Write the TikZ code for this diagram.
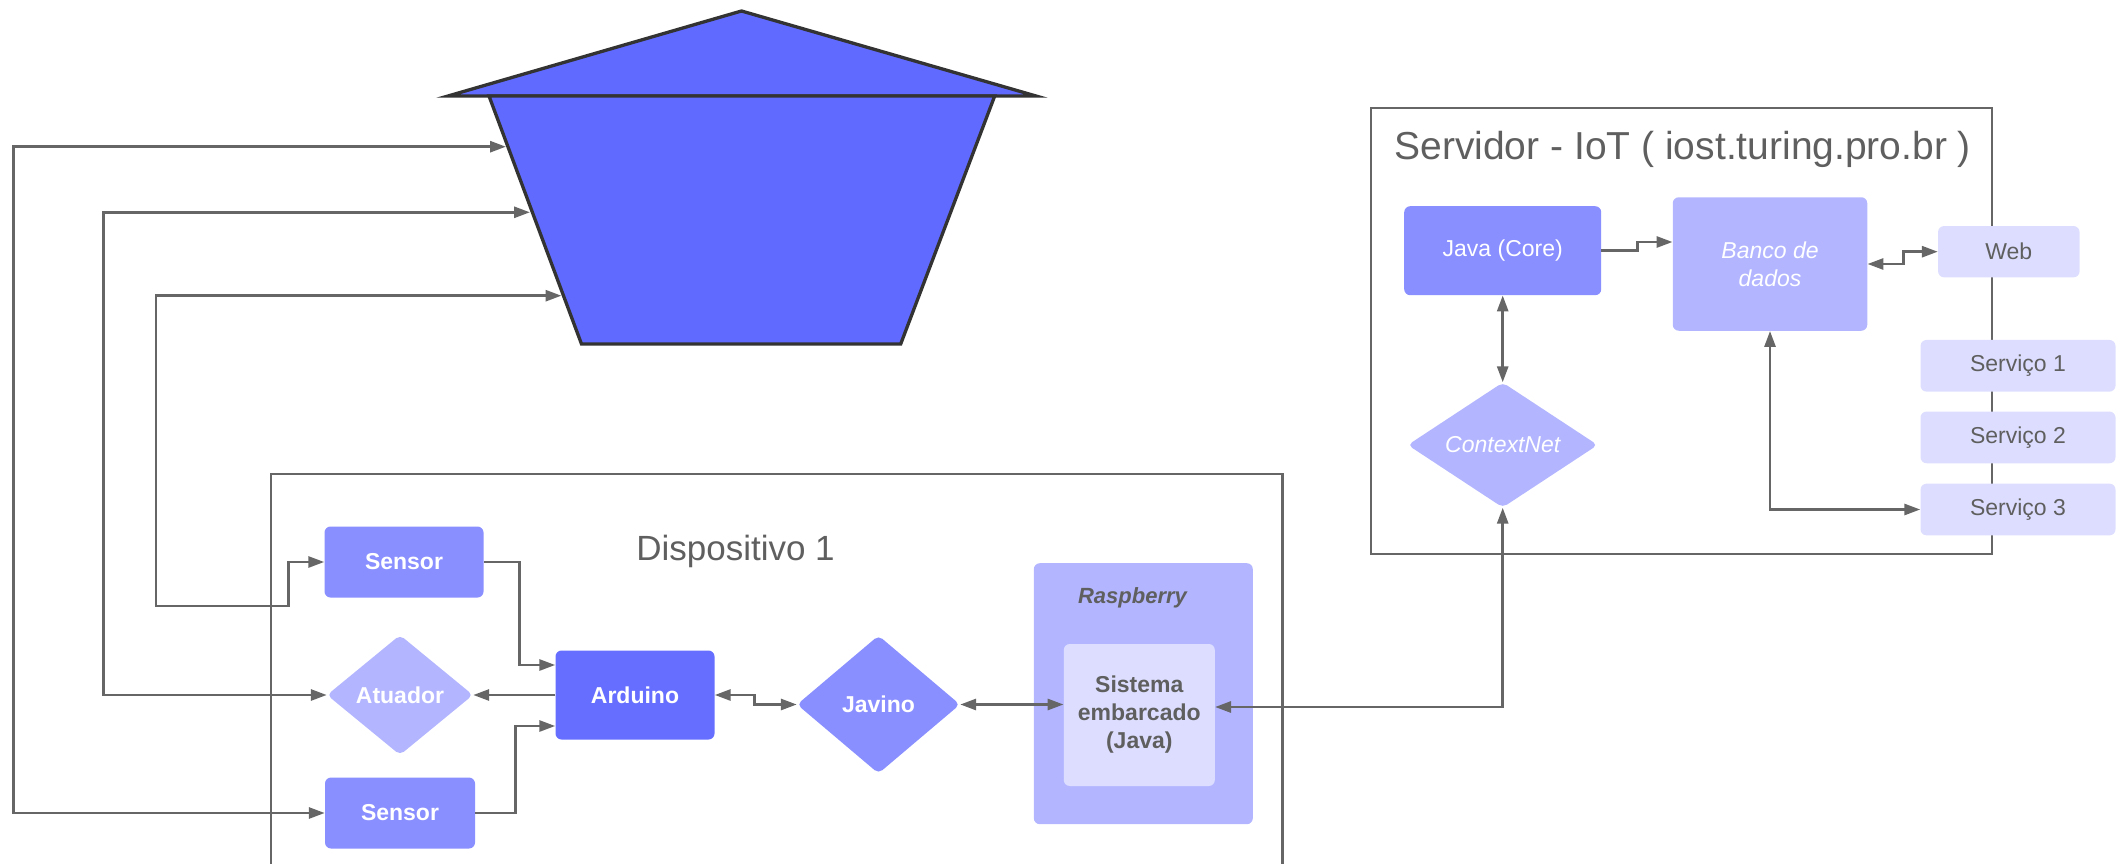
\documentclass[tikz,border=0pt]{standalone}
\usepackage{fontspec}
\setmainfont{Liberation Sans}
\usepackage{tikz}
\usetikzlibrary{shapes, arrows.meta, positioning, shapes.geometric}

\definecolor{HouseBlue}{RGB}{97,106,255}
\definecolor{DarkBlue}{RGB}{102,110,255}
\definecolor{MidBlue}{RGB}{138,143,255}
\definecolor{LightBlue}{RGB}{179,182,255}
\definecolor{PaleBlue}{RGB}{221,222,255}
\definecolor{LineGray}{RGB}{102,102,102}
\definecolor{TitleGray}{RGB}{95,95,95}
\definecolor{EdgeDark}{RGB}{51,51,51}
\newcommand{\BoxFont}{\fontsize{23}{28}\selectfont}

\begin{document}
\begin{tikzpicture}
[x=1pt, y=-1pt,
BoxNode/.style={rectangle, rounded corners=6pt, inner sep=0pt, align=center},
DarkNode/.style={BoxNode, fill=DarkBlue, text=white},
MidNode/.style={BoxNode, fill=MidBlue, text=white},
LightNode/.style={BoxNode, fill=LightBlue, text=white},
PaleNode/.style={BoxNode, fill=PaleBlue, text=TitleGray},
DecisionNode/.style={diamond, rounded corners=5pt, inner sep=0pt, text=white},
TitleNode/.style={text=TitleGray, anchor=base},
FrameLine/.style={draw=LineGray, line width=2.7pt},
HouseLine/.style={draw=EdgeDark, line width=3.3pt, fill=HouseBlue},
Link/.style={draw=LineGray, line width=2.8pt, -{Triangle[length=16pt,width=11pt]}},
BiLink/.style={Link, {Triangle[length=16pt,width=11pt]}-{Triangle[length=16pt,width=11pt]}}
]
\useasboundingbox (0,0) rectangle (2126,864);

% casa
\draw[HouseLine] (448,96) -- (741.5,11) -- (1036,96) -- cycle;
\draw[HouseLine] (489,96) -- (994.7,96) -- (900.7,344) -- (581.5,344) -- cycle;
\coordinate (HouseA) at (506,146.7);
\coordinate (HouseB) at (530,212.3);
\coordinate (HouseC) at (561.5,295.7);

% Dispositivo 1
\draw[FrameLine] (271,875) |- (1282.6,474) -- (1282.6,875);
\node[TitleNode, font=\fontsize{35}{40}\selectfont] (DeviceTitle) at (735.5,560) {Dispositivo 1};

\node[MidNode, minimum width=159pt, minimum height=71pt, font=\BoxFont\bfseries] (SensorTop) at (404,562) {Sensor};
\node[DecisionNode, fill=LightBlue, aspect=1.22, minimum width=146pt, minimum height=120pt, font=\BoxFont\bfseries] (Atuador) at (400,695) {Atuador};
\node[MidNode, minimum width=150pt, minimum height=71pt, font=\BoxFont\bfseries] (SensorBottom) at (400,813) {Sensor};
\node[DarkNode, minimum width=159pt, minimum height=89pt, font=\BoxFont\bfseries] (Arduino) at (635,695) {Arduino};
\node[DecisionNode, fill=MidBlue, aspect=1.18, minimum width=163pt, minimum height=138pt, font=\BoxFont\bfseries] (Javino) at (878.5,704.5) {Javino};
\node[LightNode, minimum width=219pt, minimum height=261pt] (Raspberry) at (1143.3,693.7) {};
\node[TitleNode, font=\fontsize{22}{26}\selectfont\bfseries\itshape] (RaspTitle) at (1132.5,603.5) {Raspberry};
\node[PaleNode, minimum width=151pt, minimum height=142pt, font=\BoxFont\bfseries] (Sistema) at (1139.3,715) {Sistema\\embarcado\\(Java)};

% Servidor
\draw[FrameLine] (1371,108) rectangle (1992,554);
\node[TitleNode, font=\fontsize{39}{45}\selectfont] (ServerTitle) at (1682.7,160) {Servidor - IoT ( iost.turing.pro.br )};

\node[MidNode, minimum width=197pt, minimum height=89pt, font=\BoxFont] (JavaCore) at (1502.7,250.7) {Java (Core)};
\node[LightNode, minimum width=194.5pt, minimum height=133.5pt, font=\BoxFont\itshape] (Banco) at (1770,264) {Banco de\\dados};
\node[PaleNode, minimum width=141.5pt, minimum height=51.3pt, font=\BoxFont] (Web) at (2008.8,251.7) {Web};
\node[PaleNode, minimum width=195pt, minimum height=51.7pt, font=\BoxFont] (Servico1) at (2018,365.8) {Serviço 1};
\node[PaleNode, minimum width=195pt, minimum height=51.7pt, font=\BoxFont] (Servico2) [below=19.5pt of Servico1] {Serviço 2};
\node[PaleNode, minimum width=195pt, minimum height=51.7pt, font=\BoxFont] (Servico3) [below=20pt of Servico2] {Serviço 3};
\node[DecisionNode, fill=LightBlue, aspect=1.52, minimum width=190pt, minimum height=125pt, font=\BoxFont\itshape] (ContextNet) at (1502.7,445) {ContextNet};

\draw[BiLink] (SensorBottom.west) -- ++(-311,0) |- (HouseA);
\draw[BiLink] (Atuador.west) -- ++(-223,0) |- (HouseB);
\draw[BiLink] (HouseC) -| (156,606) -| ([xshift=-36pt]SensorTop.west) -- (SensorTop.west);

\draw[Link] (SensorTop.east) -- ++(36,0) |- ([yshift=30pt]Arduino.west);
\draw[Link] (SensorBottom.east) -- ++(40,0) |- ([yshift=-31pt]Arduino.west);
\draw[Link] (Arduino) -- (Atuador);
\draw[BiLink] (Arduino.east) -- ++(40,0) |- (Javino.west);
\draw[BiLink] (Javino.east) -- (Javino.east -| Sistema.west);
\draw[BiLink] (ContextNet.south) |- ([yshift=8pt]Sistema.east);

\draw[BiLink] (JavaCore) -- (ContextNet);
\draw[Link] (JavaCore.east) -- ++(36,0) |- ([yshift=22pt]Banco.west);
\draw[BiLink] (Banco.east) -- ++(36,0) |- (Web.west);
\draw[BiLink] (Banco.south) |- (Servico3.west);
\end{tikzpicture}
\end{document}
